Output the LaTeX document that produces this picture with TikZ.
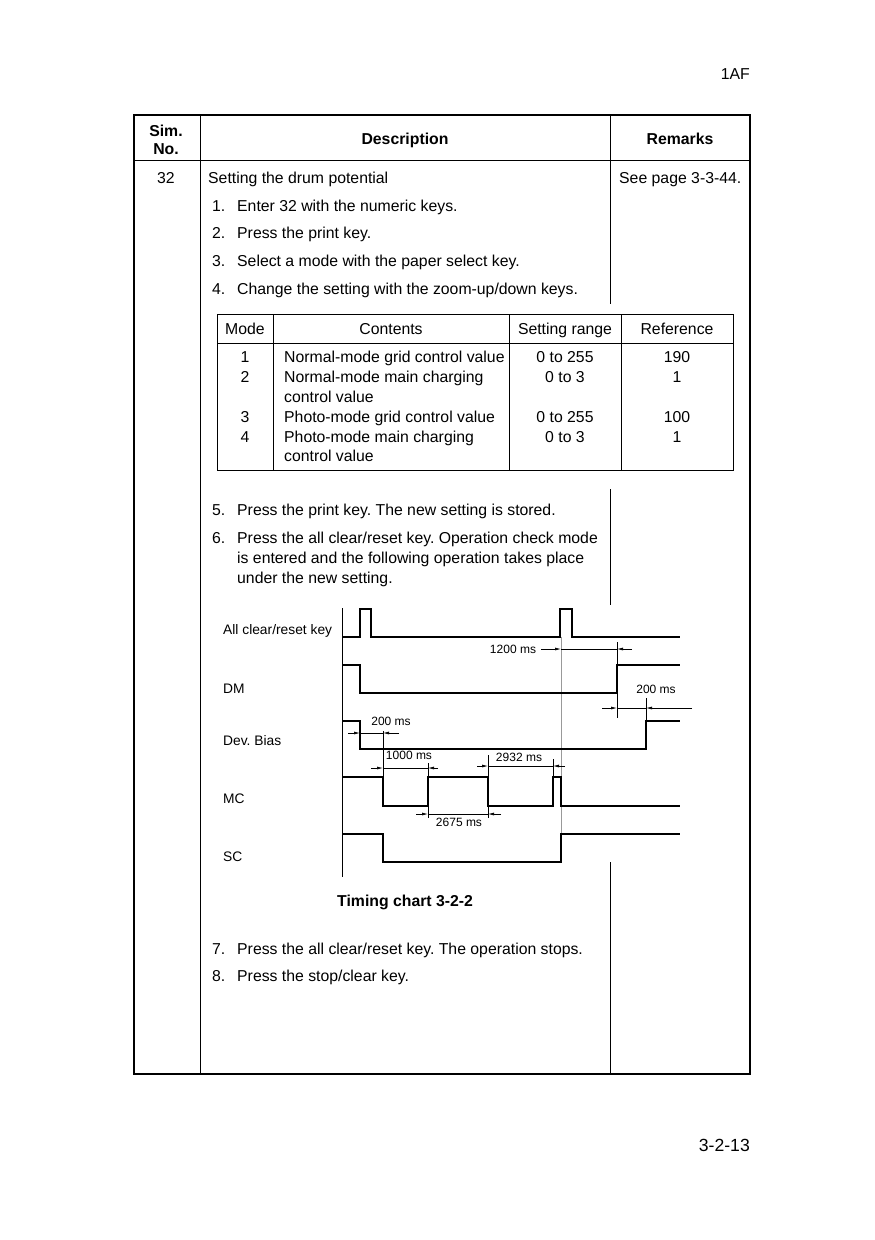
\documentclass[tikz,border=0pt]{standalone}
\usepackage{fontspec}
\setmainfont{Liberation Sans}
\usetikzlibrary{arrows.meta}
\frenchspacing
\begin{document}
\begin{tikzpicture}[x=1pt,y=-1pt,
  txt/.style={inner sep=0pt, text height=11.3pt, text depth=0pt, font=\fontsize{15.8}{19}\selectfont},
  btxt/.style={txt, font=\fontsize{15.8}{19}\selectfont\bfseries},
  lab/.style={inner sep=0pt, text height=9.9pt, text depth=0pt, font=\fontsize{13.8}{16}\selectfont},
  dlab/.style={inner sep=0pt, text height=8.6pt, text depth=0pt, font=\fontsize{12}{14}\selectfont},
  frame/.style={line width=2pt},
  rule/.style={line width=1pt},
  wave/.style={line width=2pt, line join=miter},
  tick/.style={line width=0.9pt},
  dim/.style={line width=0.7pt},
  dimarr/.style={dim, -{Latex[length=6pt,width=3pt]}},
  guide/.style={line width=1pt, draw=black!40}
]
\useasboundingbox (0,0) rectangle (875,1240);

% page labels
\node[txt, anchor=east] (pgtop) at (750,74) {1AF};
\node[inner sep=0pt, text height=12.6pt, text depth=0pt, font=\fontsize{17.6}{21}\selectfont, anchor=east] (pgno) at (750,1145) {3-2-13};

% main frame
\draw[frame] (134,115) rectangle (750,1074);
\draw[rule] (134,160) -- (750,160);
\draw[rule] (200,115) -- (200,1074);
\draw[rule] (610,115) -- (610,304);
\draw[rule] (610,489) -- (610,605);
\draw[rule] (610,862) -- (610,1074);

% header
\node[btxt] (hsim) at (166,131) {Sim.};
\node[btxt] (hno) at (166,149) {No.};
\node[btxt] (hdesc) at (405,139) {Description};
\node[btxt] (hrem) at (680,139) {Remarks};

% row
\node[txt] (simno) at (166,178) {32};
\node[txt, anchor=west] (title) at (208,178) {Setting the drum potential};
\node[txt, anchor=west] (rem) at (619,178) {See page 3-3-44.};

\foreach \n/\y/\t in {1/206/{Enter 32 with the numeric keys.},
                      2/233/{Press the print key.},
                      3/261/{Select a mode with the paper select key.},
                      4/289/{Change the setting with the zoom-up/down keys.},
                      5/510/{Press the print key. The new setting is stored.},
                      6/538/{Press the all clear/reset key. Operation check mode},
                      7/949/{Press the all clear/reset key. The operation stops.},
                      8/976/{Press the stop/clear key.}}{
  \node[txt, anchor=west] (num\n) at (212,\y) {\n.};
  \node[txt, anchor=west] (step\n) at (237,\y) {\t};
}
\node[txt, anchor=west] (step6b) at (237,558) {is entered and the following operation takes place};
\node[txt, anchor=west] (step6c) at (237,578) {under the new setting.};

% inner table
\draw[rule] (217,314) rectangle (733,470);
\draw[rule] (217,343) -- (733,343);
\draw[rule] (273,314) -- (273,470);
\draw[rule] (509,314) -- (509,470);
\draw[rule] (621,314) -- (621,470);
\node[txt] (tmode) at (245,329) {Mode};
\node[txt] (tcont) at (391,329) {Contents};
\node[txt] (trange) at (565,329) {Setting range};
\node[txt] (tref) at (677,329) {Reference};

\node[txt] (m1) at (245,357) {1};
\node[txt, anchor=west] (c1) at (284,357) {Normal-mode grid control value};
\node[txt] (r1) at (565,357) {0 to 255};
\node[txt] (f1) at (677,357) {190};
\node[txt] (m2) at (245,377) {2};
\node[txt, anchor=west] (c2) at (284,377) {Normal-mode main charging};
\node[txt, anchor=west] (c2b) at (284,397) {control value};
\node[txt] (r2) at (565,377) {0 to 3};
\node[txt] (f2) at (677,377) {1};
\node[txt] (m3) at (245,417) {3};
\node[txt, anchor=west] (c3) at (284,417) {Photo-mode grid control value};
\node[txt] (r3) at (565,417) {0 to 255};
\node[txt] (f3) at (677,417) {100};
\node[txt] (m4) at (245,437) {4};
\node[txt, anchor=west] (c4) at (284,437) {Photo-mode main charging};
\node[txt, anchor=west] (c4b) at (284,456) {control value};
\node[txt] (r4) at (565,437) {0 to 3};
\node[txt] (f4) at (677,437) {1};

% timing chart labels
\node[lab, anchor=west] (lack) at (223,630) {All clear/reset key};
\node[lab, anchor=west] (ldm) at (223,689) {DM};
\node[lab, anchor=west] (ldev) at (223,741) {Dev. Bias};
\node[lab, anchor=west] (lmc) at (223,799) {MC};
\node[lab, anchor=west] (lsc) at (223,857) {SC};

% time origin line and guide
\draw[tick] (342,608) -- (342,877);
\draw[guide] (561,637) -- (561,834);

% waveforms
\draw[wave] (342,637) -- (360,637) -- (360,609) -- (371,609) -- (371,637) -- (560,637) -- (560,609) -- (572,609) -- (572,637) -- (680,637);
\draw[wave] (342,665) -- (360,665) -- (360,693) -- (617,693) -- (617,665) -- (680,665);
\draw[wave] (342,721) -- (360,721) -- (360,749) -- (646,749) -- (646,721) -- (680,721);
\draw[wave] (342,777) -- (383,777) -- (383,806) -- (428,806) -- (428,777) -- (488,777) -- (488,806) -- (553,806) -- (553,777) -- (561,777) -- (561,806) -- (680,806);
\draw[wave] (342,834) -- (383,834) -- (383,862) -- (561,862) -- (561,834) -- (680,834);

% extension ticks
\draw[tick] (617,642) -- (617,718);
\draw[tick] (646,698) -- (646,721);
\draw[tick] (383,731) -- (383,777);
\draw[tick] (428,763) -- (428,777);
\draw[tick] (488,755) -- (488,777);
\draw[tick] (553,759) -- (553,777);
\draw[tick] (428,806) -- (428,818);
\draw[tick] (488,806) -- (488,818);

% 1200 ms
\node[dlab] (d1200) at (513,649) {1200 ms};
\draw[dimarr] (541,649) -- (561,649);
\draw[dim] (561,649) -- (617,649);
\draw[dimarr] (632,649) -- (617,649);
% 200 ms right
\node[dlab] (d200r) at (656,689) {200 ms};
\draw[dimarr] (602,708) -- (617,708);
\draw[dim] (617,708) -- (646,708);
\draw[dimarr] (692,708) -- (646,708);
% 200 ms left
\node[dlab] (d200l) at (391,721) {200 ms};
\draw[dimarr] (348,733) -- (360,733);
\draw[dim] (360,733) -- (383,733);
\draw[dimarr] (399,733) -- (383,733);
% 1000 ms
\node[dlab] (d1000) at (409,755) {1000 ms};
\draw[dimarr] (371,768) -- (383,768);
\draw[dim] (383,768) -- (428,768);
\draw[dimarr] (438,768) -- (428,768);
% 2932 ms
\node[dlab] (d2932) at (519,757) {2932 ms};
\draw[dimarr] (477,766) -- (488,766);
\draw[dim] (488,766) -- (553,766);
\draw[dimarr] (565,766) -- (553,766);
% 2675 ms
\node[dlab] (d2675) at (459,822) {2675 ms};
\draw[dimarr] (416,814) -- (428,814);
\draw[dim] (428,814) -- (488,814);
\draw[dimarr] (501,814) -- (488,814);

% caption
\node[btxt, anchor=west] (caption) at (337,901) {Timing chart 3-2-2};
\end{tikzpicture}
\end{document}
